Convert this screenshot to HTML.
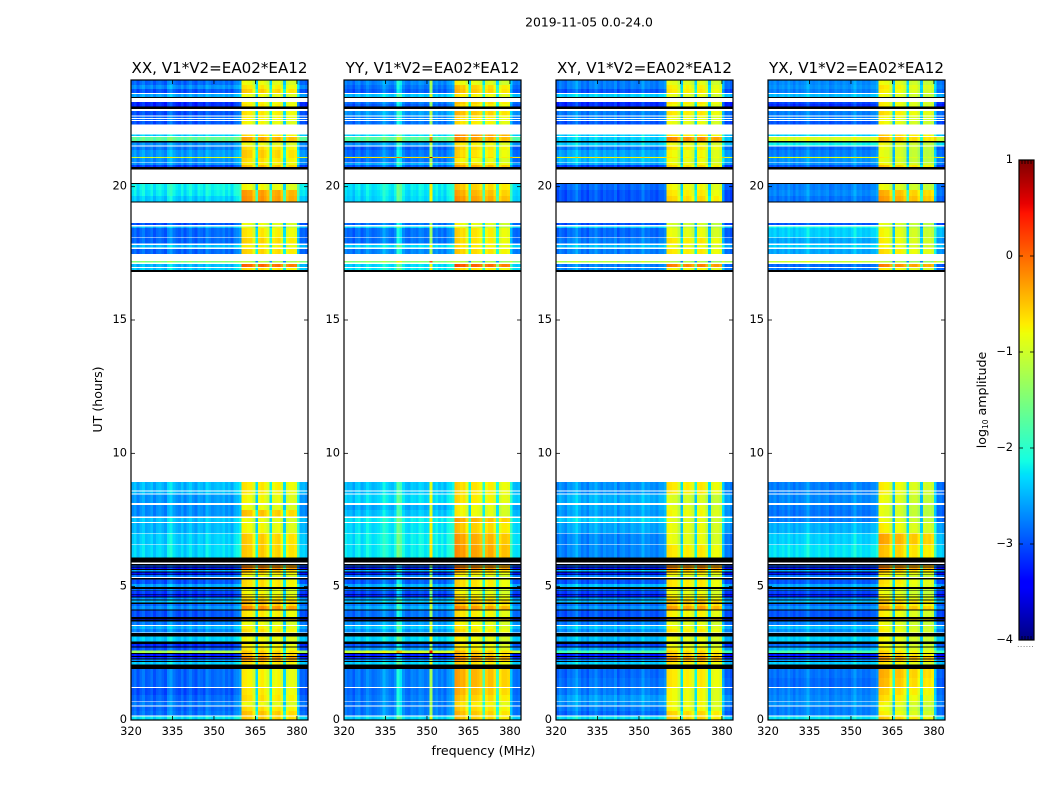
<!DOCTYPE html>
<html lang="en">
<head>
<meta charset="utf-8">
<title>2019-11-05 0.0-24.0</title>
<style>
html,body{margin:0;padding:0;background:#fff;}
svg{display:block;}
text{font-family:"DejaVu Sans","Liberation Sans",sans-serif;fill:#000;}
</style>
</head>
<body>
<svg id="figure" xmlns="http://www.w3.org/2000/svg" width="1050" height="800" viewBox="0 0 1050 800">
  <text x="589" y="26.5" text-anchor="middle" font-size="12.4">2019-11-05 0.0-24.0</text>
  <text x="483.5" y="755" text-anchor="middle" font-size="12.6">frequency (MHz)</text>
  <text transform="translate(102,399.5) rotate(-90)" text-anchor="middle" font-size="12.6">UT (hours)</text>
  <text transform="translate(986,400) rotate(-90)" text-anchor="middle" font-size="12.6">log<tspan font-size="7.5" dy="2">10</tspan><tspan dy="-2"> amplitude</tspan></text>
  <g id="panels"></g>
  <g id="colorbar"></g>
</svg>
<script>
// ---------- chart data ----------
const panelTitles = ['XX, V1*V2=EA02*EA12','YY, V1*V2=EA02*EA12','XY, V1*V2=EA02*EA12','YX, V1*V2=EA02*EA12'];
const xTickValues = [320,335,350,365,380];
const yTickValues = [0,5,10,15,20];
const colorbarTicks = [-4,-3,-2,-1,0,1];
const bandStartMHz = 360;
const bandEndMHz = 380;
const firstChannelMHz = 320;

// Time rows [top hour, bottom hour]; hours not listed are unobserved (white).
const rowHours = [
[24.00,23.81],[23.81,23.66],[23.66,23.51],[23.48,23.36],[23.36,23.33],[23.18,23.10],[23.10,23.00],[23.00,22.91],[22.84,22.67],[22.63,22.58],
[22.54,22.50],[22.46,22.33],[21.96,21.90],[21.86,21.72],[21.72,21.66],[21.66,21.54],[21.51,21.38],[21.38,21.15],[21.15,21.11],[21.11,21.08],
[21.08,20.91],[20.88,20.81],[20.81,20.73],[20.73,20.65],[20.13,20.10],[20.10,19.88],[19.88,19.65],[19.65,19.44],[19.44,19.41],[18.64,18.56],
[18.51,18.45],[18.45,18.09],[18.08,17.87],[17.81,17.72],[17.66,17.48],[17.21,17.16],[17.10,16.99],[16.95,16.88],[16.88,16.80],[8.93,8.61],
[8.56,8.50],[8.45,8.13],[8.07,7.88],[7.88,7.64],[7.58,7.43],[7.39,7.02],[6.99,6.59],[6.56,6.10],[6.10,5.91],[5.85,5.80],
[5.80,5.76],[5.76,5.72],[5.72,5.66],[5.66,5.63],[5.63,5.57],[5.57,5.53],[5.53,5.46],[5.46,5.43],[5.43,5.36],[5.33,5.26],
[5.26,5.10],[5.10,4.99],[4.99,4.92],[4.92,4.86],[4.86,4.83],[4.83,4.73],[4.73,4.70],[4.70,4.63],[4.63,4.60],[4.60,4.52],
[4.52,4.49],[4.49,4.40],[4.40,4.35],[4.35,4.28],[4.28,4.15],[4.15,4.10],[4.10,3.87],[3.87,3.79],[3.79,3.76],[3.76,3.70],
[3.70,3.56],[3.53,3.41],[3.41,3.29],[3.26,3.13],[3.13,2.94],[2.94,2.85],[2.85,2.76],[2.76,2.72],[2.72,2.61],[2.61,2.51],
[2.51,2.48],[2.48,2.40],[2.40,2.36],[2.36,2.31],[2.31,2.27],[2.27,2.21],[2.21,2.18],[2.18,2.08],[2.08,1.91],[1.91,1.58],
[1.58,1.24],[1.20,0.94],[0.94,0.70],[0.68,0.54],[0.51,0.34],[0.34,0.17],[0.14,0.00]];

// log10 amplitude of each row outside the 360-380 MHz band (null = flagged, drawn black).
const bgXX = [
-2.9,-2.7,-3.0,-2.6,null,-3.2,-3.2,null,-3.0,-2.9,
-2.9,-3.0,-2.4,-1.7,null,-2.7,-2.8,-2.65,-2.65,-1.0,
-2.7,-2.7,-3.1,null,null,-2.2,-2.25,-2.4,null,-3.0,
-2.5,-2.9,-2.9,-2.5,-2.9,-1.5,-2.5,-2.4,null,-2.5,
-2.5,-2.65,-2.7,-2.7,-2.45,-2.5,-2.4,-2.35,null,null,
-3.0,null,-3.3,null,-2.6,null,-3.3,null,-2.8,null,
-3.0,-2.6,null,-2.85,null,-3.1,null,-3.3,null,-2.7,
null,-2.5,null,-2.9,-2.7,null,-3.0,null,-3.3,null,
-2.8,-2.55,-2.75,null,-2.4,null,-3.2,null,-3.0,-1.3,
null,-3.3,null,-3.2,null,-2.7,null,-2.4,null,-2.9,
-2.9,-3.0,-2.9,-2.8,-2.9,-2.85,-2.3];
const bgYY = [
-2.8,-2.9,-3.0,-2.5,null,-2.9,-3.0,null,-2.7,-2.8,
-2.8,-2.9,-2.4,-1.8,null,-2.7,-3.0,-2.9,-2.8,-0.7,
-2.9,-2.6,-3.0,null,null,-2.3,-2.35,-2.4,null,-2.9,
-2.4,-2.9,-2.9,-2.4,-2.8,-1.5,-2.4,-2.3,null,-2.5,
-2.5,-2.4,-2.6,-2.5,-2.3,-2.35,-2.3,-2.3,null,null,
-3.0,null,-3.3,null,-2.6,null,-3.3,null,-2.8,null,
-3.0,-2.6,null,-2.85,null,-3.1,null,-3.3,null,-2.7,
null,-2.5,null,-2.8,-2.6,null,-2.9,null,-3.3,null,
-2.7,-2.5,-2.7,null,-2.4,null,-3.0,null,-2.7,-1.1,
null,-3.3,null,-3.2,null,-2.7,null,-2.4,null,-2.85,
-2.85,-2.9,-2.85,-2.85,-2.85,-2.85,-2.4];
const bgXY = [
-2.8,-2.8,-3.0,-2.4,null,-3.2,-3.2,null,-2.8,-2.8,
-2.8,-3.0,-2.4,-2.4,null,-2.4,-2.8,-2.6,-2.55,-0.8,
-2.5,-2.6,-3.1,null,null,-2.9,-3.0,-3.0,null,-3.0,
-2.4,-2.9,-2.8,-2.5,-2.8,-1.2,-2.8,-2.7,null,-2.7,
-2.7,-2.55,-2.6,-2.65,-2.4,-2.6,-2.75,-2.75,null,null,
-3.0,null,-3.3,null,-2.5,null,-3.3,null,-2.8,null,
-3.0,-2.5,null,-2.85,null,-3.1,null,-3.3,null,-2.7,
null,-2.5,null,-2.9,-2.7,null,-3.0,null,-3.3,null,
-2.8,-2.5,-2.7,null,-2.5,null,-3.1,null,-2.6,-1.9,
null,-3.3,null,-3.2,null,-2.7,null,-2.4,null,-2.9,
-2.85,-2.8,-2.65,-2.7,-2.8,-2.9,-2.3];
const bgYX = [
-2.75,-2.7,-2.8,-2.5,null,-3.1,-3.2,null,-2.8,-2.8,
-2.8,-3.0,-2.4,-1.0,null,-2.2,-2.9,-2.8,-2.7,-0.9,
-2.7,-2.7,-3.0,null,null,-2.8,-2.75,-2.85,null,-3.0,
-2.2,-2.4,-2.6,-2.4,-2.6,-1.1,-2.9,-2.8,null,-2.8,
-2.8,-2.75,-2.8,-2.85,-2.8,-2.55,-2.4,-2.3,null,null,
-3.0,null,-3.3,null,-2.6,null,-3.3,null,-2.8,null,
-3.0,-2.6,null,-2.85,null,-3.1,null,-3.3,null,-2.7,
null,-2.5,null,-2.9,-2.7,null,-3.0,null,-3.3,null,
-2.8,-2.5,-2.7,null,-2.4,null,-2.9,null,-2.5,-1.9,
null,-3.3,null,-3.2,null,-2.7,null,-2.4,null,-2.85,
-2.9,-2.8,-2.75,-2.7,-2.8,-2.8,-2.3];

// log10 amplitude of each row inside the 360-380 MHz band.
const sigXX = [
-.9,-.75,-.6,-.9,null,-.8,-.75,null,-.75,-.8,
-.8,-.85,-.7,-.4,null,-.9,-.7,-.6,-.6,-.6,
-.7,-.8,-.5,null,null,-.85,-.35,-.3,null,-.9,
-1,-.75,-.65,-.8,-.65,-1.2,-.05,-.7,null,-.75,
-.75,-.85,-.9,-.55,-.9,-.85,-.6,-.6,null,null,
-.3,null,-.2,null,-.5,null,-.7,null,-.9,null,
-.7,-.7,null,-.9,null,-.85,null,-.75,null,-.7,
null,-.5,null,-.55,-.25,null,-.75,null,-.4,null,
-.9,-.8,-.7,null,-.85,null,-.8,null,-.75,-.6,
null,-.5,null,-.25,null,-.35,null,-.7,null,-.8,
-.8,-.75,-.7,-.9,-.7,-.55,-.6];
const sigYY = [
-.9,-.6,-.55,-.8,null,-.6,-.7,null,-.55,-.7,
-.7,-.75,-.3,-.35,null,-.8,-.65,-.7,-.7,-.6,
-.85,-.7,-.4,null,null,-.6,-.45,-.35,null,-.9,
-1,-.7,-.7,-.75,-.65,-1.2,0,-.7,null,-.7,
-.7,-.75,-.85,-.85,-.45,-.6,-.4,-.35,null,null,
-.3,null,-.2,null,-.5,null,-.7,null,-.9,null,
-.7,-.7,null,-.9,null,-.85,null,-.75,null,-.7,
null,-.5,null,-.55,-.3,null,-.75,null,-.4,null,
-.85,-.8,-.7,null,-.85,null,-.8,null,-.75,-.55,
null,-.5,null,-.25,null,-.35,null,-.7,null,-.45,
-.45,-.5,-.6,-.75,-.65,-.55,-.6];
const sigXY = [
-.9,-.75,-.7,-.9,null,-.7,-.8,null,-.7,-.85,
-.85,-.85,-.7,-.2,null,-.85,-.7,-.8,-.8,-.7,
-.85,-.8,-.6,null,null,-.8,-.7,-.6,null,-1,
-1.05,-.85,-.7,-.85,-.7,-1.2,-.15,-.8,null,-.7,
-.7,-.95,-.9,-.8,-.9,-.85,-.85,-.7,null,null,
-.3,null,-.2,null,-.5,null,-.7,null,-.9,null,
-.7,-.7,null,-.85,null,-.85,null,-.75,null,-.7,
null,-.5,null,-.55,-.3,null,-.75,null,-.4,null,
-.9,-.8,-.7,null,-.85,null,-.85,null,-.75,-.6,
null,-.5,null,-.25,null,-.35,null,-.7,null,-.7,
-.7,-.8,-.8,-.8,-.8,-.6,-.6];
const sigYX = [
-.9,-.75,-.8,-.9,null,-.8,-.8,null,-.7,-.85,
-.85,-.85,-.6,-.5,null,-.9,-.9,-.95,-.95,-.8,
-.95,-.85,-.55,null,null,-.9,-.45,-.35,null,-.95,
-1.05,-.85,-.8,-.85,-.7,-1.2,-.2,-.8,null,-.8,
-.8,-.9,-.95,-.95,-.9,-.8,-.4,-.55,null,null,
-.3,null,-.2,null,-.5,null,-.7,null,-.9,null,
-.7,-.75,null,-.9,null,-.9,null,-.8,null,-.75,
null,-.55,null,-.6,-.4,null,-.8,null,-.5,null,
-.9,-.85,-.8,null,-.85,null,-.85,null,-.8,-.65,
null,-.55,null,-.3,null,-.4,null,-.75,null,-.45,
-.5,-.6,-.7,-.85,-.9,-.8,-.6];

// Per-channel offset (one value per MHz, 320-383) added to the row level.
const chanXX = [
.0,.1,-.1,.05,.15,-.05,.0,.1,-.1,.05,
.1,.0,-.1,.2,.3,.1,.0,-.05,.1,-.1,
.05,.15,.0,-.1,.1,.05,-.05,.2,.1,.0,
.05,.1,.05,.15,.0,.1,-.05,.15,.2,.3,
.12,.1,.05,.05,-.2,-1.5,.05,.1,.0,-.15,
-1.4,-.05,.0,.05,-.2,-1.5,-.18,-.05,-.05,-.1,
.5,.0,.05,-.05];
const chanYY = [
.1,.0,.05,-.1,.1,.15,-.05,.05,.2,.1,
.0,.05,.1,.15,.35,.2,.1,.05,.2,.8,
.6,.2,.05,.0,.15,.1,.05,.2,.15,.05,
.1,1.6,.1,.2,.05,.15,.0,.2,.25,.35,
.2,.15,.05,.1,-.15,-1.45,.05,.05,.0,-.1,
-1.35,-.1,.0,.0,-.2,-1.4,-.25,-.1,-.1,-.15,
.45,.05,.0,.05];
const chanXY = [
-.05,.1,.0,-.1,.1,.05,.15,.3,.1,-.05,
.05,-.1,.1,.05,.2,.05,-.05,.1,.0,.05,
.0,.15,-.1,.05,.1,.0,-.05,.1,.05,.0,
.05,.25,.05,.1,.0,.05,-.05,.1,.1,.2,
.08,.05,.0,.0,-.25,-1.55,-.05,.0,-.05,-.2,
-1.45,.0,.05,.0,-.25,-1.55,-.2,-.1,-.1,-.2,
.35,-.05,.0,-.1];
const chanYX = [
.05,.0,.1,-.05,.05,.1,.0,.15,.05,-.05,
.1,.0,.05,.1,.25,.05,.0,.05,.1,.0,
.05,.1,-.05,.0,.1,.05,.0,.1,.05,.0,
.1,.25,.05,.1,.0,.05,.0,.1,.1,.2,
.12,.1,.05,.05,-.2,-1.55,-.02,.0,-.05,-.2,
-1.45,-.15,-.1,-.1,-.3,-1.55,-.15,-.2,-.15,-.25,
.45,-.05,.0,-.1];

// ---------- layout and scales ----------
const panelLeft = [131,344,556,768];
const panelWidth = 177;
const plotTop = 80, plotBottom = 720;
const xMin = 320, xMax = 384, yMin = 0, yMax = 24;
const bgByPanel = [bgXX,bgYY,bgXY,bgYX];
const sigByPanel = [sigXX,sigYY,sigXY,sigYX];
const chanByPanel = [chanXX,chanYY,chanXY,chanYX];
const polNames = ['xx','yy','xy','yx'];
const SVGNS = 'http://www.w3.org/2000/svg';

function xScale(panel, f){ return panelLeft[panel] + (f - xMin) / (xMax - xMin) * panelWidth; }
function yScale(h){ return plotBottom - (h - yMin) / (yMax - yMin) * (plotBottom - plotTop); }
function ramp(t, pts){
  for (let i = 1; i < pts.length; i++) {
    if (t <= pts[i][0]) {
      const a = pts[i-1], b = pts[i];
      return a[1] + (b[1]-a[1]) * (t-a[0]) / (b[0]-a[0]);
    }
  }
  return pts[pts.length-1][1];
}
const jetR = [[0,0],[.35,0],[.66,1],[.89,1],[1,.5]];
const jetG = [[0,0],[.125,0],[.375,1],[.64,1],[.91,0],[1,0]];
const jetB = [[0,.5],[.11,1],[.34,1],[.65,0],[1,0]];
function jet(v){
  const t = Math.max(0, Math.min(1, (v + 4) / 5));
  return 'rgb(' + Math.round(255*ramp(t,jetR)) + ',' + Math.round(255*ramp(t,jetG)) + ',' + Math.round(255*ramp(t,jetB)) + ')';
}
function make(tag, attrs, parent){
  const el = document.createElementNS(SVGNS, tag);
  for (const k in attrs) el.setAttribute(k, attrs[k]);
  parent.appendChild(el);
  return el;
}

// ---------- panels ----------
const panelsRoot = document.getElementById('panels');
panelTitles.forEach(function(title, p){
  const group = make('g', {}, panelsRoot);
  
  

  const heat = make('g', {'shape-rendering':'crispEdges'}, group);
  
  

  const bg = bgByPanel[p], sig = sigByPanel[p], chan = chanByPanel[p];
  rowHours.forEach(function(span, r){
    const y0 = yScale(span[0]);
    const y1 = yScale(span[1]);
    if (bg[r] === null || bg[r] === undefined) {
      const flagged = make('rect', {x:xScale(p,xMin), y:y0, width:xScale(p,xMax)-xScale(p,xMin), height:Math.max(y1-y0,1), fill:'#000'}, heat);
      
      
      return;
    }
    chan.forEach(function(offset, c){
      const f = firstChannelMHz + c;
      const base = (f >= bandStartMHz && f < bandEndMHz) ? sig[r] : bg[r];
      const xa = xScale(p, f);
      const xb = xScale(p, f + 1);
      const cell = make('rect', {x:xa, y:y0, width:xb-xa, height:Math.max(y1-y0,1), fill:jet(base + offset)}, heat);
      
      
    });
  });

  const left = xScale(p, xMin), right = xScale(p, xMax);

  const frame = make('rect', {x:left, y:plotTop, width:right-left, height:plotBottom-plotTop, fill:'none', stroke:'#000', 'stroke-width':1.2}, group);
  
  

  const titleEl = make('text', {x:(left+right)/2, y:73, 'text-anchor':'middle', 'font-size':15.1}, group);
  titleEl.textContent = title;
  
  

  xTickValues.forEach(function(v){
    const x = xScale(p, v);
    const tb = make('line', {x1:x, x2:x, y1:plotBottom, y2:plotBottom-4, stroke:'#000', 'stroke-width':.8}, group);
    
    
    const tt = make('line', {x1:x, x2:x, y1:plotTop, y2:plotTop+4, stroke:'#000', 'stroke-width':.8}, group);
    
    
    const lb = make('text', {x:x, y:735, 'text-anchor':'middle', 'font-size':11.4}, group);
    lb.textContent = String(v);
    
    
  });

  yTickValues.forEach(function(v){
    const y = yScale(v);
    const tl = make('line', {x1:left, x2:left+4, y1:y, y2:y, stroke:'#000', 'stroke-width':.8}, group);
    
    
    const tr = make('line', {x1:right, x2:right-4, y1:y, y2:y, stroke:'#000', 'stroke-width':.8}, group);
    
    
    const lb = make('text', {x:left-4, y:y+3, 'text-anchor':'end', 'font-size':11.4}, group);
    lb.textContent = String(v);
    
    
  });
});

// ---------- colorbar ----------
const cbRoot = document.getElementById('colorbar');
const cbLeft = 1019, cbRight = 1034, cbTop = 160, cbBottom = 640;
function cbY(v){ return cbBottom - (v + 4) / 5 * (cbBottom - cbTop); }
const cbFill = make('g', {'shape-rendering':'crispEdges'}, cbRoot);


for (let i = 0; i < 240; i++) {
  const a = -4 + 5 * i / 240;
  const b = -4 + 5 * (i + 1) / 240;
  const seg = make('rect', {x:cbLeft, y:cbY(b), width:cbRight-cbLeft, height:cbY(a)-cbY(b)+.5, fill:jet((a+b)/2)}, cbFill);
  
  
}
const cbFrame = make('rect', {x:cbLeft, y:cbTop, width:cbRight-cbLeft, height:cbBottom-cbTop, fill:'none', stroke:'#000', 'stroke-width':1.2}, cbRoot);


colorbarTicks.forEach(function(v){
  const y = cbY(v);
  const t1 = make('line', {x1:cbLeft, x2:cbLeft+4, y1:y, y2:y, stroke:'#000', 'stroke-width':.8}, cbRoot);
  
  
  const t2 = make('line', {x1:cbRight, x2:cbRight-4, y1:y, y2:y, stroke:'#000', 'stroke-width':.8}, cbRoot);
  
  
  const lb = make('text', {x:cbLeft-6, y:y+3, 'text-anchor':'end', 'font-size':11.4}, cbRoot);
  lb.textContent = String(v).replace('-', '\u2212');
  
  
});
[1022,1025,1028,1031].forEach(function(x){
  const topTick = make('line', {x1:x, x2:x, y1:cbTop, y2:cbTop+4, stroke:'#000', 'stroke-width':.8}, cbRoot);
  
  
  const botTick = make('line', {x1:x, x2:x, y1:cbBottom, y2:cbBottom-4, stroke:'#000', 'stroke-width':.8}, cbRoot);
  
  
});
const cbDots = make('text', {x:1026, y:647, 'text-anchor':'middle', 'font-size':6, fill:'#666', 'letter-spacing':'1px'}, cbRoot);
cbDots.textContent = '......';


</script>
</body>
</html>
